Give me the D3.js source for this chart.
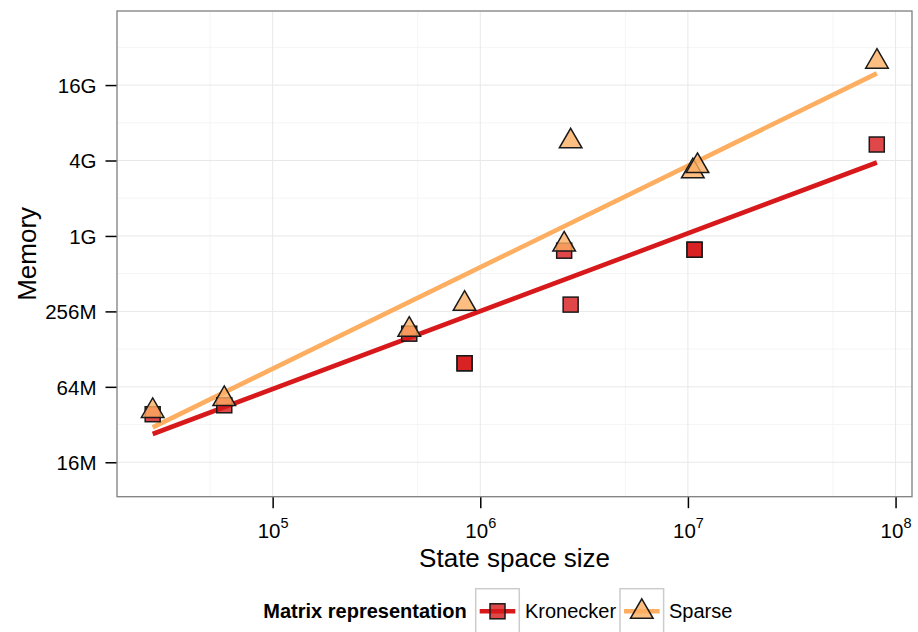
<!DOCTYPE html>
<html>
<head>
<meta charset="utf-8">
<script src="https://cdn.jsdelivr.net/npm/d3@7"></script>
<style>
  html, body { margin: 0; padding: 0; background: #fff; }
  svg { display: block; font-family: "Liberation Sans", Arial, Helvetica, sans-serif; }
</style>
</head>
<body>
<svg id="chart" width="918" height="632"></svg>
<script>
// State space size (number of states) and peak memory (MB) per run
const kroneckerSize   = [26440, 58480, 454800, 840200, 840200, 2535000, 2724000, 10760000, 10760000, 81210000];
const kroneckerMemory = [38.7, 45.6, 170, 98.7, 98.7, 781, 290, 795, 795, 5496];
const sparseSize      = [26440, 58480, 454800, 840200, 2535000, 2724000, 10560000, 11120000, 81380000];
const sparseMemory    = [41.1, 51.2, 182.6, 294.4, 875, 5827, 3360, 3702, 25160];

// Log-log linear trend per representation, evaluated at the smallest and largest state space
const trendSize       = [26440, 81300000];
const kroneckerTrend  = [26.9, 3950];
const sparseTrend     = [30.4, 20300];

// Axis breaks
const sizeTicks        = [1e5, 1e6, 1e7, 1e8];
const sizeTickExponent = ["5", "6", "7", "8"];
const sizeMinor        = [5e4, 5e5, 5e6, 5e7];
const memoryTicks      = [16, 64, 256, 1024, 4096, 16384];
const memoryTickLabels = ["16M", "64M", "256M", "1G", "4G", "16G"];
const memoryMinor      = [32, 128, 512, 2048, 8192, 32768];

const seriesNames  = ["Kronecker", "Sparse"];
const seriesColors = ["#d7191c", "#fdae61"];

const panel = { left: 117, top: 11, right: 912, bottom: 496.7 };

const svg = d3.select("#chart");

const x = d3.scaleLog().domain([17800, 1.2e8]).range([panel.left, panel.right]);
const y = d3.scaleLog().base(2).domain([8.5, 63900]).range([panel.bottom, panel.top]);

// Panel background and grid
svg.append("rect")
  .attr("x", panel.left).attr("y", panel.top)
  .attr("width", panel.right - panel.left).attr("height", panel.bottom - panel.top)
  .attr("fill", "#fff");

const grid = svg.append("g");
grid.selectAll(".xminor").data(sizeMinor).join("line")
  .attr("x1", d => x(d)).attr("x2", d => x(d))
  .attr("y1", panel.top).attr("y2", panel.bottom)
  .attr("stroke", "#f5f5f5").attr("stroke-width", 1);
grid.selectAll(".yminor").data(memoryMinor).join("line")
  .attr("y1", d => y(d)).attr("y2", d => y(d))
  .attr("x1", panel.left).attr("x2", panel.right)
  .attr("stroke", "#f5f5f5").attr("stroke-width", 1);
grid.selectAll(".xmajor").data(sizeTicks).join("line")
  .attr("x1", d => x(d)).attr("x2", d => x(d))
  .attr("y1", panel.top).attr("y2", panel.bottom)
  .attr("stroke", "#e8e8e8").attr("stroke-width", 1);
grid.selectAll(".ymajor").data(memoryTicks).join("line")
  .attr("y1", d => y(d)).attr("y2", d => y(d))
  .attr("x1", panel.left).attr("x2", panel.right)
  .attr("stroke", "#e8e8e8").attr("stroke-width", 1);

// Trend lines
const trends = [kroneckerTrend, sparseTrend];
const lineGen = d3.line().x(d => x(d[0])).y(d => y(d[1]));
trends.forEach((t, i) => {
  svg.append("path")
    .datum(trendSize.map((s, j) => [s, t[j]]))
    .attr("d", lineGen)
    .attr("fill", "none")
    .attr("stroke", seriesColors[i])
    .attr("stroke-width", 4.6);
});

// Point symbols
const SQ = 15;            // square side
const TRI_HALF = 11.3;    // half base width of triangle
const EDGE = "#1a1a1a";
function trianglePath(cx, cy, h) {
  const r = 2 * h / Math.sqrt(3), b = h / Math.sqrt(3);
  return `M${cx},${cy - r}L${cx + h},${cy + b}L${cx - h},${cy + b}Z`;
}

const kron = kroneckerSize.map((s, i) => ({ s, m: kroneckerMemory[i] }));
const spar = sparseSize.map((s, i) => ({ s, m: sparseMemory[i] }));

svg.append("g").selectAll("rect").data(kron).join("rect")
  .attr("x", d => x(d.s) - SQ / 2).attr("y", d => y(d.m) - SQ / 2)
  .attr("width", SQ).attr("height", SQ)
  .attr("fill", seriesColors[0]).attr("fill-opacity", 0.8)
  .attr("stroke", EDGE).attr("stroke-width", 1.5);

svg.append("g").selectAll("path").data(spar).join("path")
  .attr("d", d => trianglePath(x(d.s), y(d.m), TRI_HALF))
  .attr("fill", seriesColors[1]).attr("fill-opacity", 0.8)
  .attr("stroke", EDGE).attr("stroke-width", 1.5)
  .attr("stroke-linejoin", "miter");

// Panel border
svg.append("rect")
  .attr("x", panel.left).attr("y", panel.top)
  .attr("width", panel.right - panel.left).attr("height", panel.bottom - panel.top)
  .attr("fill", "none").attr("stroke", "#7f7f7f").attr("stroke-width", 1.3);

// Axes
const tickFont = 20.5;
const yAxis = svg.append("g")
  .attr("transform", `translate(${panel.left - 0.5},0)`)
  .call(d3.axisLeft(y).tickValues(memoryTicks)
        .tickFormat((d, i) => memoryTickLabels[i]).tickSize(11).tickPadding(9));
yAxis.select(".domain").remove();
yAxis.selectAll(".tick line").attr("stroke", "#000").attr("stroke-width", 1.5);
yAxis.selectAll(".tick text")
  .attr("fill", "#000").attr("font-size", tickFont).attr("font-family", null)
  .attr("dy", "0.36em");

const xAxis = svg.append("g")
  .attr("transform", `translate(0,${panel.bottom + 0.5})`)
  .call(d3.axisBottom(x).tickValues(sizeTicks).tickFormat(() => "10").tickSize(11));
xAxis.select(".domain").remove();
xAxis.selectAll(".tick line").attr("stroke", "#000").attr("stroke-width", 1.5);
xAxis.selectAll(".tick text")
  .attr("fill", "#000").attr("font-size", tickFont).attr("font-family", null)
  .attr("y", 41.3).attr("dy", 0)
  .append("tspan")
  .attr("font-size", 14.5).attr("dy", -10)
  .text((d, i) => sizeTickExponent[i]);

// Axis titles
svg.append("text")
  .attr("x", (panel.left + panel.right) / 2).attr("y", 566.7)
  .attr("text-anchor", "middle").attr("font-size", 26).attr("fill", "#000")
  .text("State space size");
svg.append("text")
  .attr("transform", `translate(35.5,${(panel.top + panel.bottom) / 2}) rotate(-90)`)
  .attr("text-anchor", "middle").attr("font-size", 26).attr("fill", "#000")
  .text("Memory");

// Legend
const legendBase = 618.3;
svg.append("text")
  .attr("x", 263.3).attr("y", legendBase)
  .attr("font-size", 20).attr("font-weight", "bold").attr("fill", "#000")
  .text("Matrix representation");

const keyX = [475.7, 620];
const labelX = [525, 669];
const keyW = 43.6, keyH = 46, keyTop = 588.7;
seriesNames.forEach((name, i) => {
  const g = svg.append("g");
  const cx = keyX[i] + keyW / 2, cy = keyTop + keyH / 2 - 0.4;
  g.append("rect")
    .attr("x", keyX[i]).attr("y", keyTop).attr("width", keyW).attr("height", keyH)
    .attr("fill", "#fff").attr("stroke", "#cccccc").attr("stroke-width", 1.5);
  g.append("line")
    .attr("x1", keyX[i] + 4).attr("x2", keyX[i] + keyW - 4)
    .attr("y1", cy).attr("y2", cy)
    .attr("stroke", seriesColors[i]).attr("stroke-width", 4.6);
  if (i === 0) {
    g.append("rect")
      .attr("x", cx - SQ / 2).attr("y", cy - SQ / 2).attr("width", SQ).attr("height", SQ)
      .attr("fill", seriesColors[0]).attr("fill-opacity", 0.8)
      .attr("stroke", EDGE).attr("stroke-width", 1.5);
  } else {
    g.append("path")
      .attr("d", trianglePath(cx, cy + 0.5, TRI_HALF))
      .attr("fill", seriesColors[1]).attr("fill-opacity", 0.8)
      .attr("stroke", EDGE).attr("stroke-width", 1.5);
  }
  svg.append("text")
    .attr("x", labelX[i]).attr("y", legendBase)
    .attr("font-size", 20).attr("fill", "#000")
    .text(name);
});
</script>
</body>
</html>
